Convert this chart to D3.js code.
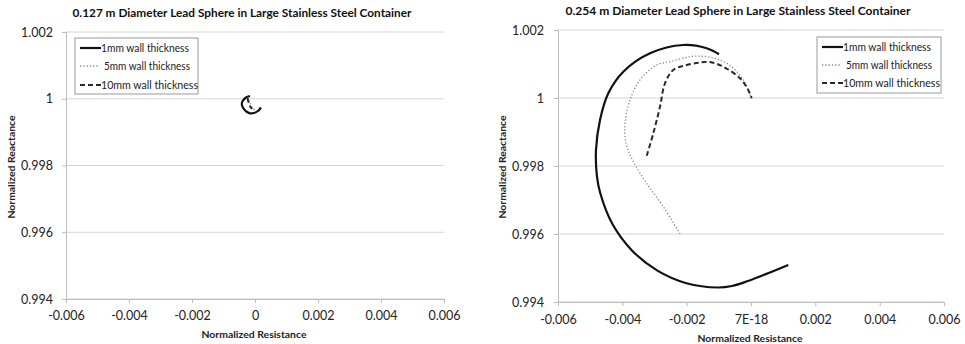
<!DOCTYPE html>
<html>
<head>
<meta charset="utf-8">
<script src="https://cdn.jsdelivr.net/npm/d3@7"></script>
<style>
  html, body { margin: 0; padding: 0; background: #fff; }
  svg { display: block; font-family: Lato, "Open Sans", "Liberation Sans", sans-serif; }
</style>
</head>
<body>
<svg id="chart" width="965" height="344"></svg>
<script>
// Axis ticks shared by both panels
const xTicks = [-0.006, -0.004, -0.002, 0, 0.002, 0.004, 0.006];
const xTickLabelsSmall = ["-0.006", "-0.004", "-0.002", "0", "0.002", "0.004", "0.006"];
const xTickLabelsLarge = ["-0.006", "-0.004", "-0.002", "7E-18", "0.002", "0.004", "0.006"];
const yTicks = [0.994, 0.996, 0.998, 1, 1.002];
const yTickLabels = ["0.994", "0.996", "0.998", "1", "1.002"];

const seriesNames = ["1mm wall thickness", "5mm wall thickness", "10mm wall thickness"];
const titles = [
  "0.127 m Diameter Lead Sphere in Large Stainless Steel Container",
  "0.254 m Diameter Lead Sphere in Large Stainless Steel Container"
];

// 0.127 m sphere: [normalized resistance, normalized reactance]
const small1mm = [
  [-0.000159, 1.000083], [-0.000286, 1.000037], [-0.000381, 0.999948], [-0.000420, 0.999843],
  [-0.000375, 0.999723], [-0.000275, 0.999618], [-0.000159, 0.999564], [-0.000032, 0.999573],
  [0.000095, 0.999633], [0.000190, 0.999738]
];
const small5mm = [
  [-0.000222, 1.000053], [-0.000190, 0.999933], [-0.000127, 0.999813], [-0.000063, 0.999708],
  [0.000000, 0.999663]
];
const small10mm = [
  [-0.000238, 1.000023], [-0.000206, 0.999903], [-0.000159, 0.999783], [-0.000095, 0.999693]
];

// 0.254 m sphere
const large1mm = [
  [0.001160, 0.995088], [0.000529, 0.994845], [-0.000093, 0.994618], [-0.000591, 0.994471],
  [-0.001026, 0.994427], [-0.002008, 0.994553], [-0.002922, 0.994930], [-0.003709, 0.995524],
  [-0.004312, 0.996300], [-0.004688, 0.997206], [-0.004788, 0.997689], [-0.004819, 0.998471],
  [-0.004694, 0.999353], [-0.004436, 1.000138], [-0.003970, 1.000774], [-0.003140, 1.001315],
  [-0.002105, 1.001559], [-0.001377, 1.001462], [-0.000995, 1.001285]
];
const large5mm = [
  [-0.002207, 0.996000], [-0.002726, 0.996803], [-0.003243, 0.997491], [-0.003659, 0.998127],
  [-0.003886, 0.998668], [-0.003917, 0.999256], [-0.003762, 0.999941], [-0.003451, 1.000530],
  [-0.002932, 1.000971], [-0.002518, 1.001068], [-0.001896, 1.001215], [-0.001430, 1.001221],
  [-0.000964, 1.001118], [-0.000591, 1.000912], [-0.000280, 1.000588], [-0.000093, 1.000265],
  [0.000000, 1.000030]
];
const large10mm = [
  [-0.003242, 0.998303], [-0.003037, 0.998962], [-0.002829, 0.999744], [-0.002674, 1.000432],
  [-0.002416, 1.000824], [-0.002000, 1.000971], [-0.001585, 1.001044], [-0.001275, 1.001059],
  [-0.000861, 1.000921], [-0.000343, 1.000580], [-0.000085, 1.000235], [0.000020, 0.999991]
];

const styles = [
  { stroke: "#111", width: 2.2, dash: null },
  { stroke: "#8a8a8a", width: 1.3, dash: "1.3,2" },
  { stroke: "#2a2a2a", width: 2.0, dash: "5,3" }
];
const legendTextLen = [88, 86, 97];

const svg = d3.select("#chart");

function drawPanel(cfg) {
  const x = d3.scaleLinear().domain([-0.006, 0.006]).range([cfg.left, cfg.right]);
  const y = d3.scaleLinear().domain([0.994, 1.002]).range([cfg.bottom, cfg.top]);
  const g = svg.append("g");

  // horizontal gridlines
  g.selectAll("line.grid").data(yTicks).join("line")
    .attr("x1", cfg.left).attr("x2", cfg.right)
    .attr("y1", d => y(d)).attr("y2", d => y(d))
    .attr("stroke", "#d4d4d4").attr("stroke-width", 1);

  // x axis
  const xAxis = d3.axisBottom(x).tickValues(xTicks).tickSize(4)
    .tickFormat((d, i) => cfg.xLabels[i]);
  const gx = g.append("g").attr("transform", `translate(0,${cfg.bottom})`).call(xAxis);
  gx.select(".domain").attr("stroke", "#bdbdbd");
  gx.selectAll(".tick line").attr("stroke", "#bdbdbd");
  gx.selectAll(".tick text").attr("font-size", 12.5).attr("fill", "#222")
    .attr("font-family", "Lato, sans-serif").attr("dy", "0.71em").attr("y", cfg.xLabelDy);

  // y axis
  const yAxis = d3.axisLeft(y).tickValues(yTicks).tickSize(4)
    .tickFormat((d, i) => yTickLabels[i]);
  const gy = g.append("g").attr("transform", `translate(${cfg.left},0)`).call(yAxis);
  gy.select(".domain").attr("stroke", "#bdbdbd");
  gy.selectAll(".tick line").attr("stroke", "#bdbdbd");
  gy.selectAll(".tick text").attr("font-size", 12.5).attr("fill", "#222")
    .attr("font-family", "Lato, sans-serif").attr("x", cfg.yLabelX);

  // series
  const line = d3.line().x(d => x(d[0])).y(d => y(d[1])).curve(d3.curveCatmullRom.alpha(0.5));
  cfg.series.forEach((s, i) => {
    g.append("path").datum(s).attr("d", line)
      .attr("fill", "none")
      .attr("stroke", styles[i].stroke)
      .attr("stroke-width", styles[i].width)
      .attr("stroke-dasharray", styles[i].dash)
      .attr("stroke-linejoin", "round");
  });

  // title
  g.append("text").attr("x", cfg.titleX).attr("y", cfg.titleY)
    .attr("text-anchor", "middle").attr("font-weight", "bold").attr("font-size", 10.5)
    .attr("fill", "#111").attr("textLength", cfg.titleLen).attr("lengthAdjust", "spacingAndGlyphs")
    .text(cfg.title);

  // axis titles
  g.append("text").attr("x", cfg.xTitleX).attr("y", cfg.xTitleY)
    .attr("text-anchor", "middle").attr("font-weight", "bold").attr("font-size", 9)
    .attr("fill", "#222").attr("textLength", 105).attr("lengthAdjust", "spacingAndGlyphs")
    .text("Normalized Resistance");
  g.append("text")
    .attr("transform", `translate(${cfg.yTitleX},${cfg.yTitleY}) rotate(-90)`)
    .attr("text-anchor", "middle").attr("font-weight", "bold").attr("font-size", 9)
    .attr("fill", "#222").attr("textLength", 103).attr("lengthAdjust", "spacingAndGlyphs")
    .text("Normalized Reactance");

  // legend
  const L = cfg.legend;
  g.append("rect").attr("x", L.x).attr("y", L.y).attr("width", L.w).attr("height", L.h)
    .attr("fill", "#fff").attr("stroke", "#9a9a9a").attr("stroke-width", 1);
  seriesNames.forEach((name, i) => {
    const ry = L.rows[i];
    g.append("line").attr("x1", L.x + 5).attr("x2", L.x + (i === 1 ? 23 : 26)).attr("y1", ry).attr("y2", ry)
      .attr("stroke", styles[i].stroke).attr("stroke-width", styles[i].width)
      .attr("stroke-dasharray", styles[i].dash);
    g.append("text").attr("x", L.x + (i === 1 ? 29 : 26)).attr("y", ry).attr("dy", "0.35em")
      .attr("font-size", 11).attr("fill", "#222")
      .attr("textLength", legendTextLen[i]).attr("lengthAdjust", "spacingAndGlyphs")
      .text(name);
  });
}

drawPanel({
  left: 66, right: 444, top: 32, bottom: 299,
  xLabels: xTickLabelsSmall, xLabelDy: 12, yLabelX: -13,
  series: [small1mm, small5mm, small10mm],
  title: titles[0], titleX: 242, titleY: 17, titleLen: 339,
  xTitleX: 254, xTitleY: 338, yTitleX: 15, yTitleY: 167,
  legend: { x: 75, y: 38, w: 123, h: 56, rows: [48, 66, 85] }
});

drawPanel({
  left: 558, right: 944, top: 30, bottom: 302,
  xLabels: xTickLabelsLarge, xLabelDy: 13, yLabelX: -14,
  series: [large1mm, large5mm, large10mm],
  title: titles[1], titleX: 738, titleY: 15, titleLen: 345,
  xTitleX: 750, xTitleY: 342, yTitleX: 506, yTitleY: 167,
  legend: { x: 817, y: 37, w: 124, h: 56, rows: [47, 65, 83] }
});
</script>
</body>
</html>
